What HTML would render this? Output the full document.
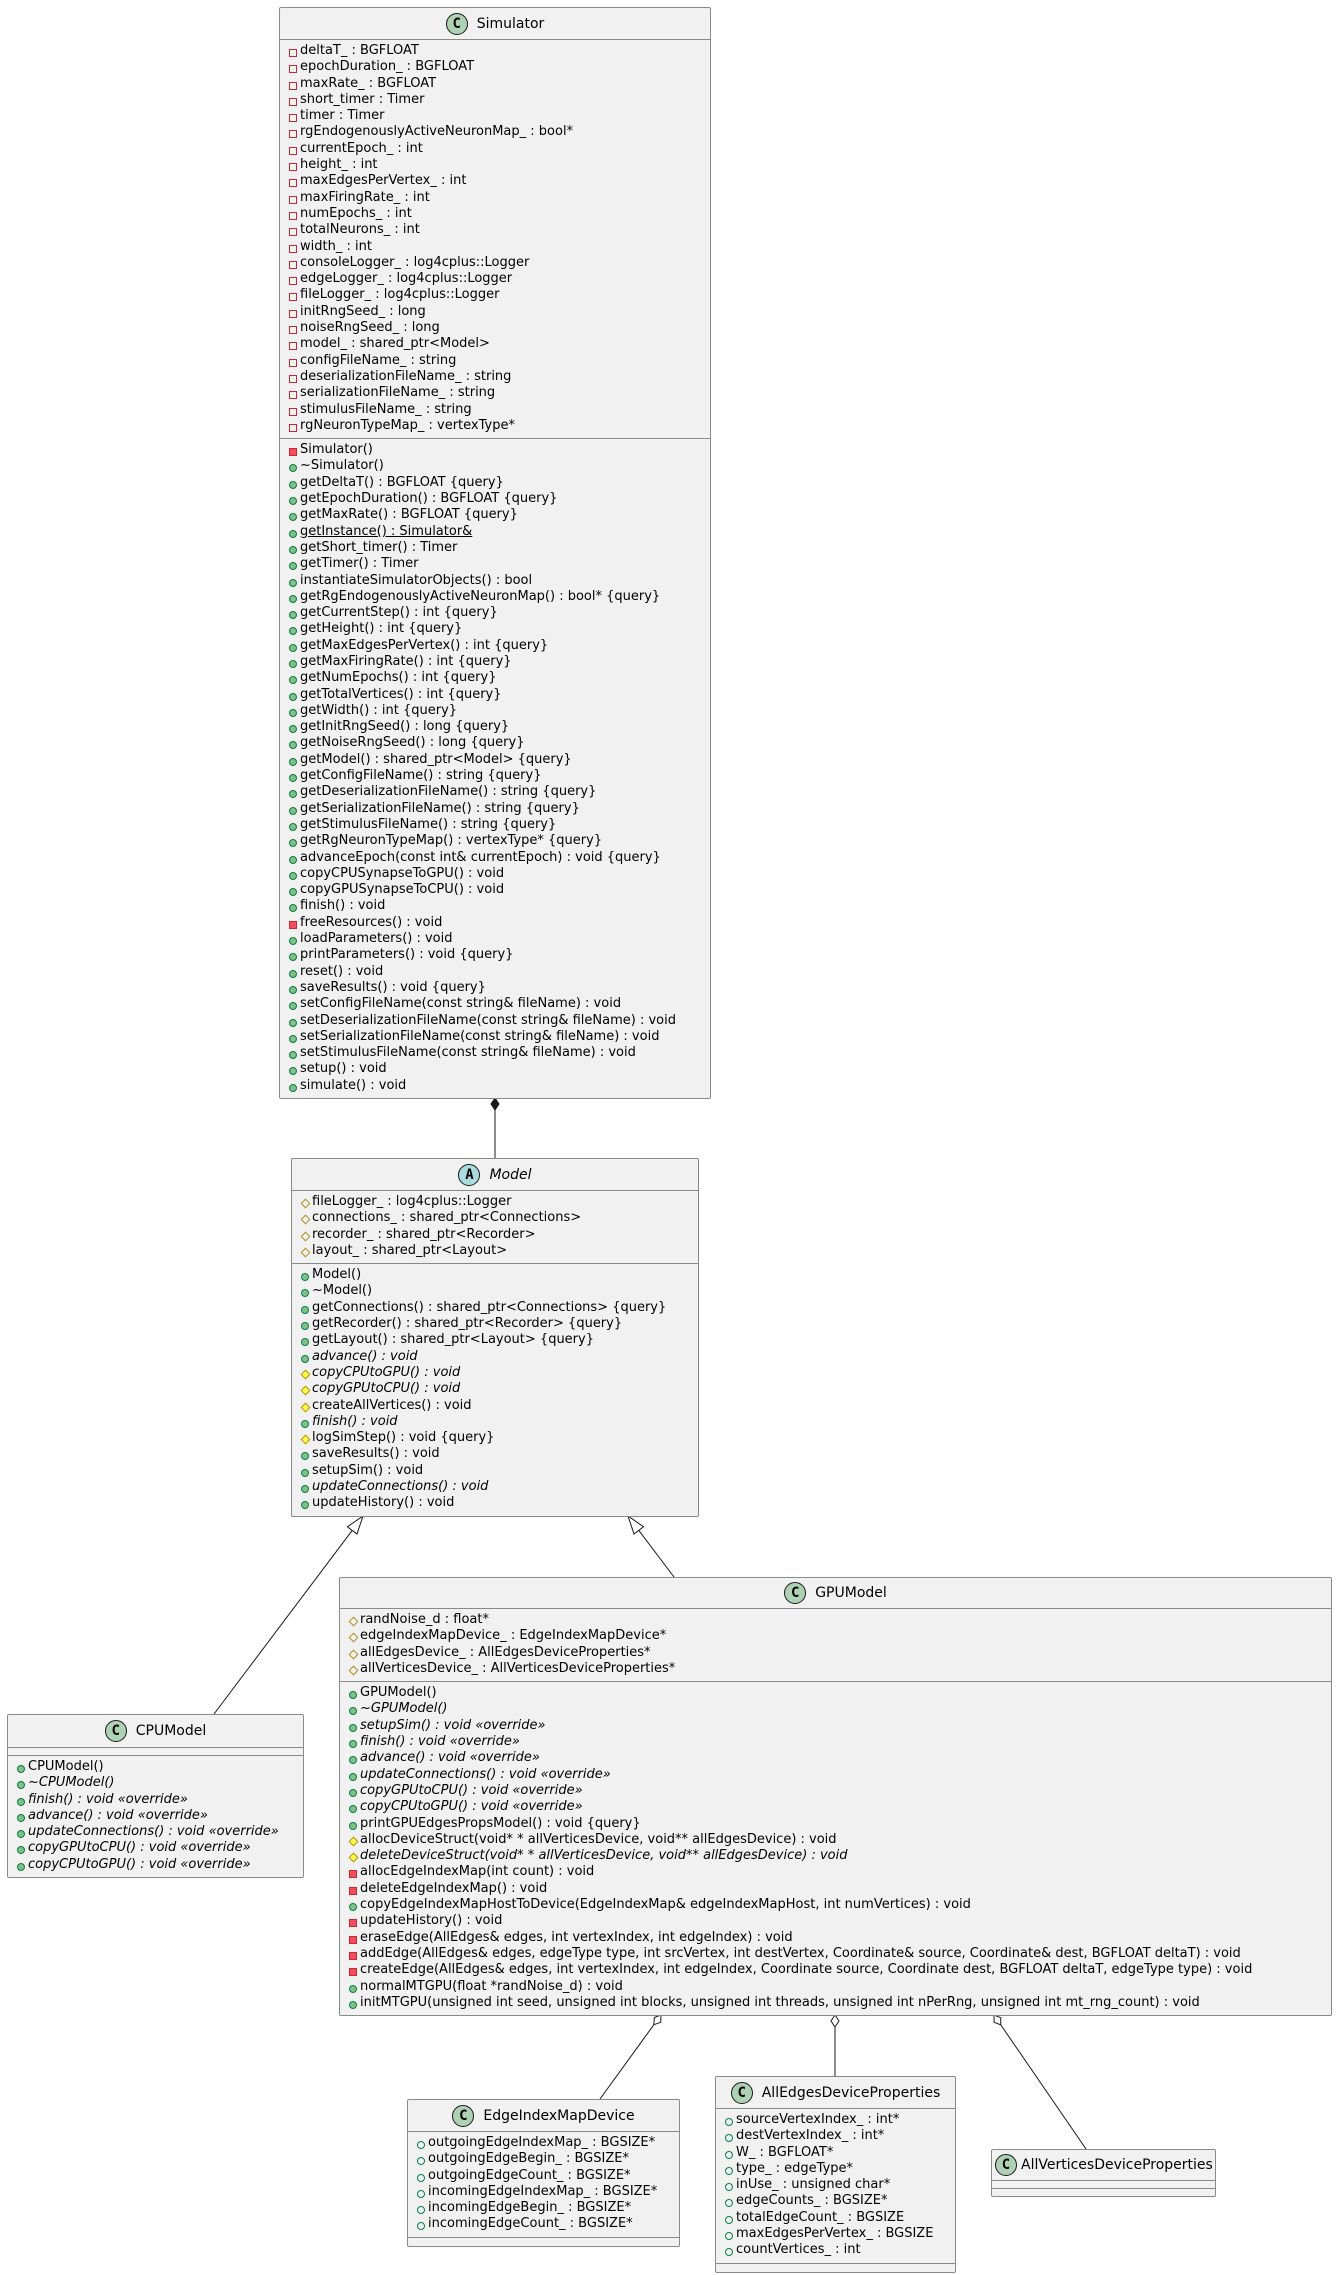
<!DOCTYPE html>
<html><head><meta charset="utf-8"><style>
*{margin:0;padding:0;box-sizing:border-box}
body{width:1337px;height:2275px;background:#fff;position:relative;overflow:hidden;font-family:"DejaVu Sans","Liberation Sans",sans-serif;font-size:13px;color:#000}
.b{position:absolute;background:#F1F1F1;border:1px solid #8a8a8a;border-radius:2px}
.h{display:flex;align-items:center;justify-content:center;font-size:14px;border-bottom:1px solid #8a8a8a}
.ic{width:22px;height:22px;border-radius:50%;border:1px solid #181818;background:#ADD1B2;font-weight:bold;font-size:14px;display:flex;align-items:center;justify-content:center;margin-right:9px;font-family:"DejaVu Sans Mono","Liberation Mono",monospace}
.ic.a{background:#A9DCDF}
.c{padding:3px 0 4px 0;border-bottom:1px solid #8a8a8a}
.c:last-child{border-bottom:none}
.e{height:8px}
.r{height:16.3px;line-height:16.3px;padding-left:20px;white-space:nowrap;position:relative}
.r::before{content:"";position:absolute;left:9px;top:6px;width:6px;height:6px}
.pa::before{border:1px solid #C82930}
.pm::before{background:#F24D5C;border:1px solid #C82930}
.um::before{border-radius:50%;background:#84BE84;border:1px solid #038048}
.ua::before{border-radius:50%;border:1px solid #038048}
.dm::before{transform:rotate(45deg);width:5px;height:5px;left:9.5px;top:6px;background:#FFFF44;border:1px solid #B38D22}
.da::before{transform:rotate(45deg);width:5px;height:5px;left:9.5px;top:6px;border:1px solid #B38D22}
i{font-style:italic}
u{text-decoration:underline}
svg{position:absolute;left:0;top:0}
</style></head><body>
<svg width="1337" height="2275" stroke="#181818" stroke-width="1" fill="none">
<polygon points="495,1098 499,1104 495,1110 491,1104" fill="#181818"/>
<line x1="495" y1="1110" x2="495" y2="1158"/>
<polygon points="363,1516 357,1534 347.4,1526.8" fill="#fff"/>
<line x1="352.2" y1="1530.4" x2="214" y2="1714"/>
<polygon points="628,1516 643.6,1526.8 634,1534" fill="#fff"/>
<line x1="638.8" y1="1530.4" x2="674" y2="1577"/>
<polygon points="661,2015 660.7,2022.3 653.9,2024.7 654.3,2017.5" fill="#fff"/>
<line x1="653.9" y1="2024.7" x2="600" y2="2099"/>
<polygon points="835,2015 839,2021 835,2027 831,2021" fill="#fff"/>
<line x1="835" y1="2027" x2="835" y2="2076"/>
<polygon points="994,2015 1000.7,2017.7 1000.8,2024.9 994.1,2022.3" fill="#fff"/>
<line x1="1000.8" y1="2024.9" x2="1086" y2="2149"/>
</svg>

<div class="b" style="left:279px;top:7px;width:432px">
<div class="h" style="height:32px"><div class="ic">C</div>Simulator</div>
<div class="c">
<div class="r pa">deltaT_ : BGFLOAT</div>
<div class="r pa">epochDuration_ : BGFLOAT</div>
<div class="r pa">maxRate_ : BGFLOAT</div>
<div class="r pa">short_timer : Timer</div>
<div class="r pa">timer : Timer</div>
<div class="r pa">rgEndogenouslyActiveNeuronMap_ : bool*</div>
<div class="r pa">currentEpoch_ : int</div>
<div class="r pa">height_ : int</div>
<div class="r pa">maxEdgesPerVertex_ : int</div>
<div class="r pa">maxFiringRate_ : int</div>
<div class="r pa">numEpochs_ : int</div>
<div class="r pa">totalNeurons_ : int</div>
<div class="r pa">width_ : int</div>
<div class="r pa">consoleLogger_ : log4cplus::Logger</div>
<div class="r pa">edgeLogger_ : log4cplus::Logger</div>
<div class="r pa">fileLogger_ : log4cplus::Logger</div>
<div class="r pa">initRngSeed_ : long</div>
<div class="r pa">noiseRngSeed_ : long</div>
<div class="r pa">model_ : shared_ptr&lt;Model&gt;</div>
<div class="r pa">configFileName_ : string</div>
<div class="r pa">deserializationFileName_ : string</div>
<div class="r pa">serializationFileName_ : string</div>
<div class="r pa">stimulusFileName_ : string</div>
<div class="r pa">rgNeuronTypeMap_ : vertexType*</div>
</div>
<div class="c">
<div class="r pm">Simulator()</div>
<div class="r um">~Simulator()</div>
<div class="r um">getDeltaT() : BGFLOAT {query}</div>
<div class="r um">getEpochDuration() : BGFLOAT {query}</div>
<div class="r um">getMaxRate() : BGFLOAT {query}</div>
<div class="r um"><u>getInstance() : Simulator&amp;</u></div>
<div class="r um">getShort_timer() : Timer</div>
<div class="r um">getTimer() : Timer</div>
<div class="r um">instantiateSimulatorObjects() : bool</div>
<div class="r um">getRgEndogenouslyActiveNeuronMap() : bool* {query}</div>
<div class="r um">getCurrentStep() : int {query}</div>
<div class="r um">getHeight() : int {query}</div>
<div class="r um">getMaxEdgesPerVertex() : int {query}</div>
<div class="r um">getMaxFiringRate() : int {query}</div>
<div class="r um">getNumEpochs() : int {query}</div>
<div class="r um">getTotalVertices() : int {query}</div>
<div class="r um">getWidth() : int {query}</div>
<div class="r um">getInitRngSeed() : long {query}</div>
<div class="r um">getNoiseRngSeed() : long {query}</div>
<div class="r um">getModel() : shared_ptr&lt;Model&gt; {query}</div>
<div class="r um">getConfigFileName() : string {query}</div>
<div class="r um">getDeserializationFileName() : string {query}</div>
<div class="r um">getSerializationFileName() : string {query}</div>
<div class="r um">getStimulusFileName() : string {query}</div>
<div class="r um">getRgNeuronTypeMap() : vertexType* {query}</div>
<div class="r um">advanceEpoch(const int&amp; currentEpoch) : void {query}</div>
<div class="r um">copyCPUSynapseToGPU() : void</div>
<div class="r um">copyGPUSynapseToCPU() : void</div>
<div class="r um">finish() : void</div>
<div class="r pm">freeResources() : void</div>
<div class="r um">loadParameters() : void</div>
<div class="r um">printParameters() : void {query}</div>
<div class="r um">reset() : void</div>
<div class="r um">saveResults() : void {query}</div>
<div class="r um">setConfigFileName(const string&amp; fileName) : void</div>
<div class="r um">setDeserializationFileName(const string&amp; fileName) : void</div>
<div class="r um">setSerializationFileName(const string&amp; fileName) : void</div>
<div class="r um">setStimulusFileName(const string&amp; fileName) : void</div>
<div class="r um">setup() : void</div>
<div class="r um">simulate() : void</div>
</div>
</div>

<div class="b" style="left:291px;top:1158px;width:408px">
<div class="h" style="height:32px"><div class="ic a">A</div><i>Model</i></div>
<div class="c">
<div class="r da">fileLogger_ : log4cplus::Logger</div>
<div class="r da">connections_ : shared_ptr&lt;Connections&gt;</div>
<div class="r da">recorder_ : shared_ptr&lt;Recorder&gt;</div>
<div class="r da">layout_ : shared_ptr&lt;Layout&gt;</div>
</div>
<div class="c">
<div class="r um">Model()</div>
<div class="r um">~Model()</div>
<div class="r um">getConnections() : shared_ptr&lt;Connections&gt; {query}</div>
<div class="r um">getRecorder() : shared_ptr&lt;Recorder&gt; {query}</div>
<div class="r um">getLayout() : shared_ptr&lt;Layout&gt; {query}</div>
<div class="r um"><i>advance() : void</i></div>
<div class="r dm"><i>copyCPUtoGPU() : void</i></div>
<div class="r dm"><i>copyGPUtoCPU() : void</i></div>
<div class="r dm">createAllVertices() : void</div>
<div class="r um"><i>finish() : void</i></div>
<div class="r dm">logSimStep() : void {query}</div>
<div class="r um">saveResults() : void</div>
<div class="r um">setupSim() : void</div>
<div class="r um"><i>updateConnections() : void</i></div>
<div class="r um">updateHistory() : void</div>
</div>
</div>

<div class="b" style="left:7px;top:1714px;width:297px">
<div class="h" style="height:33px"><div class="ic">C</div>CPUModel</div>
<div class="c e"></div>
<div class="c">
<div class="r um">CPUModel()</div>
<div class="r um"><i>~CPUModel()</i></div>
<div class="r um"><i>finish() : void «override»</i></div>
<div class="r um"><i>advance() : void «override»</i></div>
<div class="r um"><i>updateConnections() : void «override»</i></div>
<div class="r um"><i>copyGPUtoCPU() : void «override»</i></div>
<div class="r um"><i>copyCPUtoGPU() : void «override»</i></div>
</div>
</div>

<div class="b" style="left:339px;top:1577px;width:993px">
<div class="h" style="height:31px"><div class="ic">C</div>GPUModel</div>
<div class="c">
<div class="r da">randNoise_d : float*</div>
<div class="r da">edgeIndexMapDevice_ : EdgeIndexMapDevice*</div>
<div class="r da">allEdgesDevice_ : AllEdgesDeviceProperties*</div>
<div class="r da">allVerticesDevice_ : AllVerticesDeviceProperties*</div>
</div>
<div class="c">
<div class="r um">GPUModel()</div>
<div class="r um"><i>~GPUModel()</i></div>
<div class="r um"><i>setupSim() : void «override»</i></div>
<div class="r um"><i>finish() : void «override»</i></div>
<div class="r um"><i>advance() : void «override»</i></div>
<div class="r um"><i>updateConnections() : void «override»</i></div>
<div class="r um"><i>copyGPUtoCPU() : void «override»</i></div>
<div class="r um"><i>copyCPUtoGPU() : void «override»</i></div>
<div class="r um">printGPUEdgesPropsModel() : void {query}</div>
<div class="r dm">allocDeviceStruct(void* * allVerticesDevice, void** allEdgesDevice) : void</div>
<div class="r dm"><i>deleteDeviceStruct(void* * allVerticesDevice, void** allEdgesDevice) : void</i></div>
<div class="r pm">allocEdgeIndexMap(int count) : void</div>
<div class="r pm">deleteEdgeIndexMap() : void</div>
<div class="r um">copyEdgeIndexMapHostToDevice(EdgeIndexMap&amp; edgeIndexMapHost, int numVertices) : void</div>
<div class="r pm">updateHistory() : void</div>
<div class="r pm">eraseEdge(AllEdges&amp; edges, int vertexIndex, int edgeIndex) : void</div>
<div class="r pm">addEdge(AllEdges&amp; edges, edgeType type, int srcVertex, int destVertex, Coordinate&amp; source, Coordinate&amp; dest, BGFLOAT deltaT) : void</div>
<div class="r pm">createEdge(AllEdges&amp; edges, int vertexIndex, int edgeIndex, Coordinate source, Coordinate dest, BGFLOAT deltaT, edgeType type) : void</div>
<div class="r um">normalMTGPU(float *randNoise_d) : void</div>
<div class="r um">initMTGPU(unsigned int seed, unsigned int blocks, unsigned int threads, unsigned int nPerRng, unsigned int mt_rng_count) : void</div>
</div>
</div>

<div class="b" style="left:407px;top:2099px;width:273px">
<div class="h" style="height:32px"><div class="ic">C</div>EdgeIndexMapDevice</div>
<div class="c">
<div class="r ua">outgoingEdgeIndexMap_ : BGSIZE*</div>
<div class="r ua">outgoingEdgeBegin_ : BGSIZE*</div>
<div class="r ua">outgoingEdgeCount_ : BGSIZE*</div>
<div class="r ua">incomingEdgeIndexMap_ : BGSIZE*</div>
<div class="r ua">incomingEdgeBegin_ : BGSIZE*</div>
<div class="r ua">incomingEdgeCount_ : BGSIZE*</div>
</div>
<div class="c e"></div>
</div>

<div class="b" style="left:715px;top:2076px;width:241px">
<div class="h" style="height:32px"><div class="ic">C</div>AllEdgesDeviceProperties</div>
<div class="c">
<div class="r ua">sourceVertexIndex_ : int*</div>
<div class="r ua">destVertexIndex_ : int*</div>
<div class="r ua">W_ : BGFLOAT*</div>
<div class="r ua">type_ : edgeType*</div>
<div class="r ua">inUse_ : unsigned char*</div>
<div class="r ua">edgeCounts_ : BGSIZE*</div>
<div class="r ua">totalEdgeCount_ : BGSIZE</div>
<div class="r ua">maxEdgesPerVertex_ : BGSIZE</div>
<div class="r ua">countVertices_ : int</div>
</div>
<div class="c e"></div>
</div>

<div class="b" style="left:991px;top:2149px;width:225px">
<div class="h" style="height:31px;justify-content:flex-start;padding-left:3px"><div class="ic" style="margin-right:4px">C</div>AllVerticesDeviceProperties</div>
<div class="c e" style="height:7px"></div>
<div class="c e" style="height:7px"></div>
</div>
</body></html>
